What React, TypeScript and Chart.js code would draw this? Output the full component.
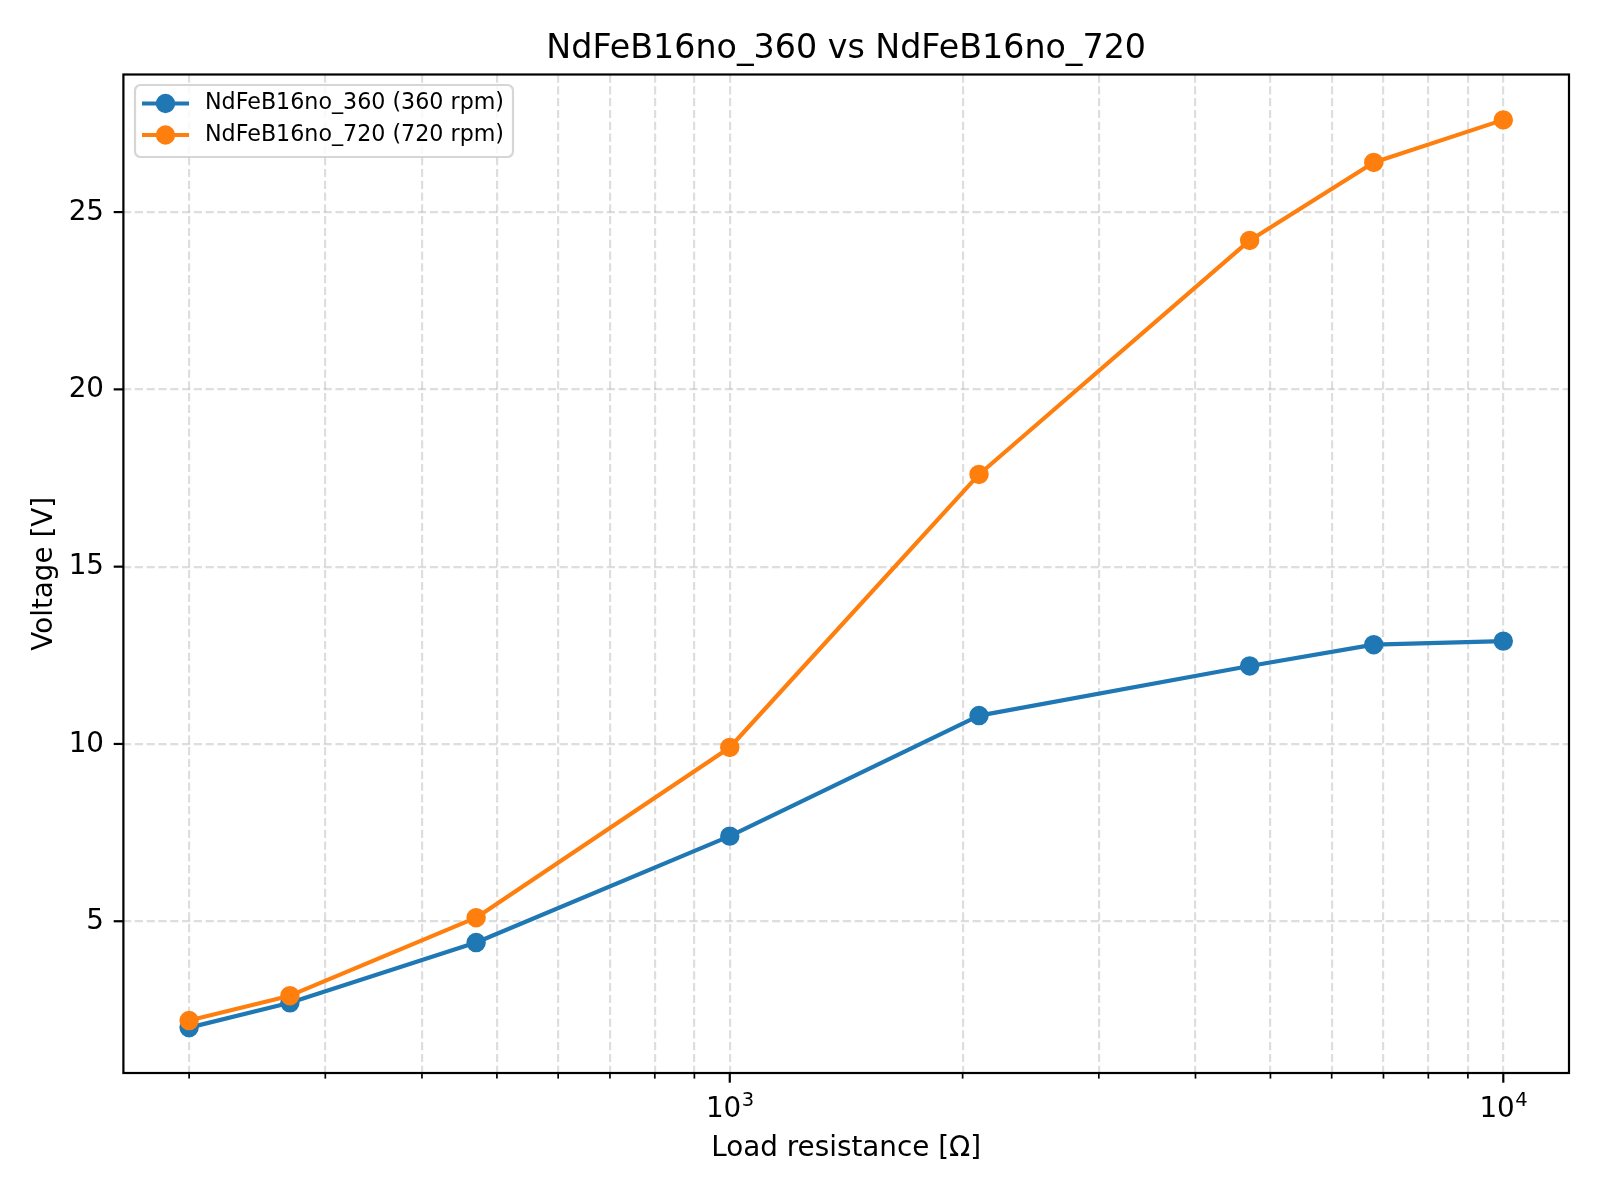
import { useEffect, useRef } from 'react';
import { Chart, registerables } from 'chart.js';

Chart.register(...registerables);

const chartTitle = 'NdFeB16no_360 vs NdFeB16no_720';
const xAxisLabel = 'Load resistance [Ω]';
const yAxisLabel = 'Voltage [V]';
const resistance = [200, 270, 470, 1000, 2100, 4700, 6800, 10000];
const voltage360 = [2.0, 2.7, 4.4, 7.4, 10.8, 12.2, 12.8, 12.9];
const voltage720 = [2.2, 2.9, 5.1, 9.9, 17.6, 24.2, 26.4, 27.6];
const seriesLabels = ['NdFeB16no_360 (360 rpm)', 'NdFeB16no_720 (720 rpm)'];
const seriesColors = ['#1f77b4', '#ff7f0e'];
const yTickValues = [5, 10, 15, 20, 25];

const FONT = '"DejaVu Sans", "Liberation Sans", sans-serif';
const GRID_COLOR = 'rgba(176,176,176,0.42)';

function isNice(v: number | undefined): boolean {
  if (v === undefined || !(v > 0)) return false;
  const e = Math.floor(Math.log10(v) + 1e-9);
  const m = v / Math.pow(10, e);
  return Math.abs(m - Math.round(m)) < 1e-6;
}
function isPow10(v: number): boolean {
  const l = Math.log10(v);
  return Math.abs(l - Math.round(l)) < 1e-9;
}

// matplotlib-like 5% margins
const lxMin = Math.log10(Math.min(...resistance));
const lxMax = Math.log10(Math.max(...resistance));
const xMin = Math.pow(10, lxMin - 0.05 * (lxMax - lxMin));
const xMax = Math.pow(10, lxMax + 0.05 * (lxMax - lxMin));
const allY = [...voltage360, ...voltage720];
const yLo = Math.min(...allY);
const yHi = Math.max(...allY);
const yMin = yLo - 0.05 * (yHi - yLo);
const yMax = yHi + 0.05 * (yHi - yLo);

const decorPlugin = {
  id: 'mplDecor',
  afterDraw(chart: any) {
    const ctx: CanvasRenderingContext2D = chart.ctx;
    const { left, right, top, bottom } = chart.chartArea;
    const xs = chart.scales.x;
    const ys = chart.scales.y;
    ctx.save();
    ctx.strokeStyle = '#000';
    ctx.fillStyle = '#000';
    ctx.setLineDash([]);

    // x ticks
    xs.ticks.forEach((t: any) => {
      if (!isNice(t.value)) return;
      const px = xs.getPixelForValue(t.value);
      if (px < left - 0.5 || px > right + 0.5) return;
      const major = isPow10(t.value);
      ctx.lineWidth = major ? 2.2 : 1.7;
      ctx.beginPath();
      ctx.moveTo(px, bottom);
      ctx.lineTo(px, bottom + (major ? 9.7 : 5.6));
      ctx.stroke();
    });
    // y ticks
    ctx.lineWidth = 2.2;
    yTickValues.forEach((v) => {
      const py = ys.getPixelForValue(v);
      ctx.beginPath();
      ctx.moveTo(left, py);
      ctx.lineTo(left - 9.7, py);
      ctx.stroke();
    });

    // frame
    ctx.lineWidth = 2.2;
    ctx.strokeRect(left, top, right - left, bottom - top);

    // y tick labels
    ctx.font = `27.8px ${FONT}`;
    ctx.textAlign = 'right';
    ctx.textBaseline = 'middle';
    yTickValues.forEach((v) => {
      const py = ys.getPixelForValue(v);
      ctx.fillText(String(v), left - 19.4, py + 0.5);
    });

    // x tick labels (10^n)
    ctx.textAlign = 'left';
    ctx.textBaseline = 'alphabetic';
    xs.ticks.forEach((t: any) => {
      if (!isNice(t.value) || !isPow10(t.value)) return;
      const px = xs.getPixelForValue(t.value);
      const exp = String(Math.round(Math.log10(t.value)));
      ctx.font = `27.8px ${FONT}`;
      const wBase = ctx.measureText('10').width;
      ctx.font = `19.5px ${FONT}`;
      const wExp = ctx.measureText(exp).width;
      const x0 = px - (wBase + wExp) / 2;
      ctx.font = `27.8px ${FONT}`;
      ctx.fillText('10', x0, 1117);
      ctx.font = `19.5px ${FONT}`;
      ctx.fillText(exp, x0 + wBase + 0.5, 1106);
    });

    // title
    ctx.textAlign = 'center';
    ctx.font = `33.3px ${FONT}`;
    ctx.fillText(chartTitle, (left + right) / 2, 58);

    // x axis label
    ctx.font = `27.8px ${FONT}`;
    ctx.fillText(xAxisLabel, (left + right) / 2, 1156);

    // y axis label
    ctx.save();
    ctx.translate(52, (top + bottom) / 2);
    ctx.rotate(-Math.PI / 2);
    ctx.fillText(yAxisLabel, 0, 0);
    ctx.restore();

    // legend
    const lx = 135, ly = 85, lw = 378, lh = 72;
    ctx.beginPath();
    if ((ctx as any).roundRect) (ctx as any).roundRect(lx, ly, lw, lh, 5.5);
    else ctx.rect(lx, ly, lw, lh);
    ctx.fillStyle = 'rgba(255,255,255,0.8)';
    ctx.fill();
    ctx.strokeStyle = 'rgba(204,204,204,0.8)';
    ctx.lineWidth = 2.2;
    ctx.stroke();

    const rows = [103.5, 135];
    chart.data.datasets.forEach((ds: any, i: number) => {
      const ry = rows[i];
      ctx.strokeStyle = ds.borderColor;
      ctx.lineWidth = 4.17;
      ctx.beginPath();
      ctx.moveTo(142, ry);
      ctx.lineTo(189, ry);
      ctx.stroke();
      ctx.beginPath();
      ctx.arc(165.5, ry, 8.33, 0, Math.PI * 2);
      ctx.fillStyle = ds.backgroundColor;
      ctx.fill();
      ctx.lineWidth = 2.78;
      ctx.stroke();
      ctx.fillStyle = '#000';
      ctx.font = `22.2px ${FONT}`;
      ctx.textAlign = 'left';
      ctx.textBaseline = 'middle';
      ctx.fillText(ds.label, 205, ry);
    });

    ctx.restore();
  },
};

export default function App() {
  const canvasRef = useRef<HTMLCanvasElement | null>(null);

  useEffect(() => {
    document.body.style.margin = '0';
    const canvas = canvasRef.current;
    if (!canvas) return;
    const mk = (vals: number[]) => resistance.map((x, i) => ({ x, y: vals[i] }));
    const chart = new Chart(canvas, {
      type: 'line',
      data: {
        datasets: [
          {
            label: seriesLabels[0],
            data: mk(voltage360),
            borderColor: seriesColors[0],
            backgroundColor: seriesColors[0],
            pointBackgroundColor: seriesColors[0],
            pointBorderColor: seriesColors[0],
            borderWidth: 4.17,
            pointRadius: 8.33,
            pointBorderWidth: 2.78,
            pointHoverRadius: 8.33,
            borderJoinStyle: 'round',
            tension: 0,
            fill: false,
            order: 1,
          },
          {
            label: seriesLabels[1],
            data: mk(voltage720),
            borderColor: seriesColors[1],
            backgroundColor: seriesColors[1],
            pointBackgroundColor: seriesColors[1],
            pointBorderColor: seriesColors[1],
            borderWidth: 4.17,
            pointRadius: 8.33,
            pointBorderWidth: 2.78,
            pointHoverRadius: 8.33,
            borderJoinStyle: 'round',
            tension: 0,
            fill: false,
            order: 0,
          },
        ],
      } as any,
      options: {
        animation: false,
        responsive: false,
        devicePixelRatio: 1,
        events: [],
        layout: { padding: { left: 0, top: 74.5, right: 31, bottom: 0 } },
        plugins: {
          legend: { display: false },
          title: { display: false },
          tooltip: { enabled: false },
        },
        scales: {
          x: {
            type: 'logarithmic',
            min: xMin,
            max: xMax,
            afterFit: (s: any) => {
              s.height = 127;
            },
            ticks: { display: false, autoSkip: false },
            grid: {
              color: (c: any) => (isNice(c.tick?.value) && c.tick.value > xMin * 1.001 && c.tick.value < xMax * 0.999 ? GRID_COLOR : 'rgba(0,0,0,0)'),
              lineWidth: 2.2,
              drawTicks: false,
              borderDash: [8.2, 3.6],
            },
            border: { display: false, dash: [8.2, 3.6] },
          },
          y: {
            type: 'linear',
            min: yMin,
            max: yMax,
            afterFit: (s: any) => {
              s.width = 123.4;
            },
            ticks: { display: false, stepSize: 5, includeBounds: false },
            grid: {
              color: GRID_COLOR,
              lineWidth: 2.2,
              drawTicks: false,
              borderDash: [8.2, 3.6],
            },
            border: { display: false, dash: [8.2, 3.6] },
          },
        } as any,
      },
      plugins: [decorPlugin],
    });
    return () => chart.destroy();
  }, []);

  return (
    <div style={{ width: 1600, height: 1200, background: '#fff' }}>
      <canvas ref={canvasRef} width={1600} height={1200} style={{ display: 'block', width: 1600, height: 1200 }} />
    </div>
  );
}
